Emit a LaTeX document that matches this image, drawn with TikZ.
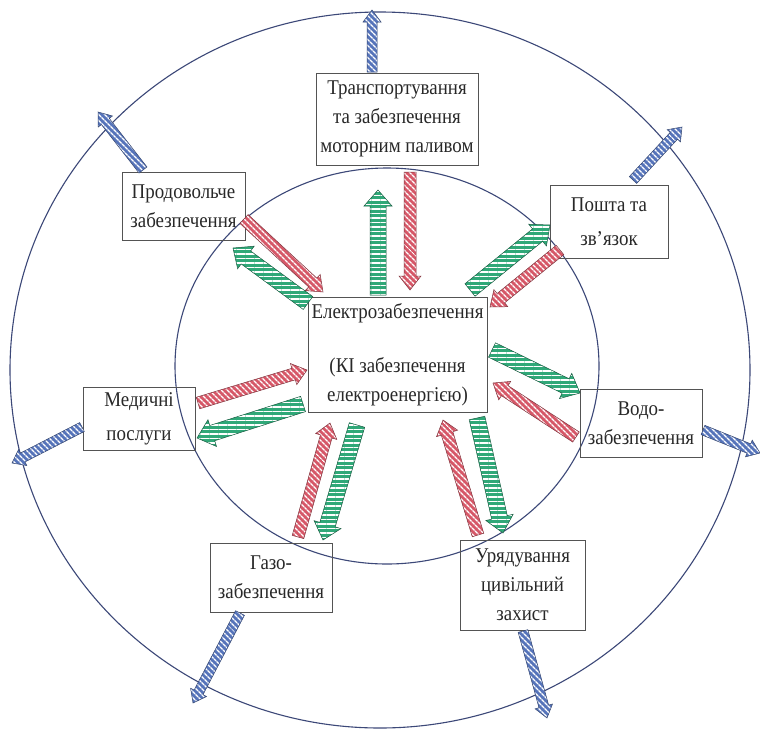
\documentclass[tikz,border=0pt]{standalone}
\usepackage{fontspec}
\setmainfont{Liberation Serif}[FakeStretch=0.9]
\usetikzlibrary{calc,patterns.meta}
\definecolor{grn}{RGB}{48,168,120}
\definecolor{rd}{RGB}{214,88,104}
\definecolor{blu}{RGB}{86,116,186}
\definecolor{ring}{RGB}{60,72,120}
\definecolor{txt}{RGB}{40,40,40}
\newcommand\blockarrow[6]{%
  \path[#1] ($(#2)!#4!90:(#3)$) -- ($(#3)!#6!(#2)!#4!-90:(#2)$) -- ($(#3)!#6!(#2)!#5!-90:(#2)$) -- (#3)
    -- ($(#3)!#6!(#2)!#5!90:(#2)$) -- ($(#3)!#6!(#2)!#4!90:(#2)$) -- ($(#2)!#4!-90:(#3)$) -- cycle;}
\tikzset{
  garrow/.style={draw=grn!55!black, line width=0.5pt, preaction={fill=grn},
    pattern={Lines[angle=0,distance=4.5pt,line width=1.4pt]}, pattern color=white},
  rarrow/.style={draw=rd!60!black, line width=0.5pt, preaction={fill=rd},
    pattern={Lines[angle=-45,distance=4pt,line width=1.4pt]}, pattern color=white},
  barrow/.style={draw=blu!60!black, line width=0.5pt, preaction={fill=blu},
    pattern={Lines[angle=-45,distance=4pt,line width=1.4pt]}, pattern color=white},
  box/.style={draw=txt!80, line width=0.7pt, align=center, inner sep=0pt, text=txt,
    font=\fontsize{21pt}{29pt}\selectfont},
  ringline/.style={draw=ring, line width=1.1pt}
}
\begin{document}
\begin{tikzpicture}[x=1pt,y=-1pt]
\useasboundingbox[fill=white] (0,0) rectangle (760,731);
% circles
\draw[ringline] (380,370) ellipse [x radius=370, y radius=358];
\draw[ringline] (387,366) ellipse [x radius=212, y radius=198];
% boxes
\node[box, minimum width=162pt, minimum height=92pt] (tr) at (397,119) {Транспортування\\та забезпечення\\моторним паливом};
\node[box, minimum width=123pt, minimum height=68pt] (pr) at (183.5,206) {Продовольче\\забезпечення};
\node[box, minimum width=118pt, minimum height=73pt, font=\fontsize{21pt}{34pt}\selectfont] (po) at (609,221.5) {Пошта та\\зв’язок};
\node[box, minimum width=179pt, minimum height=115pt] (el) at (397.5,354.5) {Електрозабезпечення\\[25pt](КІ забезпечення\\електроенергією)};
\node[box, minimum width=122pt, minimum height=68pt] (vo) at (641,423) {Водо-\\забезпечення};
\node[box, minimum width=112pt, minimum height=63pt, font=\fontsize{21pt}{34pt}\selectfont] (me) at (139,418.5) {Медичні\\послуги};
\node[box, minimum width=122pt, minimum height=69pt] (ga) at (271,577.5) {Газо-\\забезпечення};
\node[box, minimum width=125pt, minimum height=90pt] (ur) at (522.5,585) {Урядування\\цивільний\\захист};
% arrow end points
\coordinate (gTa) at (378,295); \coordinate (gTb) at (378,190);
\coordinate (gPa) at (308,303); \coordinate (gPb) at (233,248);
\coordinate (gOa) at (470,290); \coordinate (gOb) at (550,225);
\coordinate (gVa) at (492,350); \coordinate (gVb) at (580,393);
\coordinate (gMa) at (303,404); \coordinate (gMb) at (197,438);
\coordinate (gGa) at (357,425); \coordinate (gGb) at (323,540);
\coordinate (gUa) at (477,418); \coordinate (gUb) at (503,533);
\coordinate (rTa) at (410,172); \coordinate (rTb) at (410,290);
\coordinate (rPa) at (244,219); \coordinate (rPb) at (323,292);
\coordinate (rOa) at (560,250); \coordinate (rOb) at (490,307);
\coordinate (rVa) at (576,437); \coordinate (rVb) at (493,383);
\coordinate (rMa) at (198,403); \coordinate (rMb) at (307,370);
\coordinate (rGa) at (298,537); \coordinate (rGb) at (330,423);
\coordinate (rUa) at (478,535); \coordinate (rUb) at (443,420);
\coordinate (bTa) at (372,72);  \coordinate (bTb) at (372,10);
\coordinate (bPa) at (143,170); \coordinate (bPb) at (98,112);
\coordinate (bOa) at (633,180); \coordinate (bOb) at (682,127);
\coordinate (bMa) at (82,427);  \coordinate (bMb) at (12,463);
\coordinate (bVa) at (703,430); \coordinate (bVb) at (760,453);
\coordinate (bGa) at (240,613); \coordinate (bGb) at (193,703);
\coordinate (bUa) at (523,631); \coordinate (bUb) at (547,718);
% green arrows (from centre)
\foreach \n in {gT,gP,gO,gV,gM,gG,gU}{\blockarrow{garrow}{\n a}{\n b}{8pt}{14pt}{16pt}}
% red arrows (to centre)
\foreach \n in {rT,rP,rO,rV,rM,rG,rU}{\blockarrow{rarrow}{\n a}{\n b}{6pt}{11pt}{14pt}}
% blue arrows (outward)
\foreach \n in {bT,bP,bO,bM,bV,bG,bU}{\blockarrow{barrow}{\n a}{\n b}{5pt}{9pt}{12pt}}
\end{tikzpicture}
\end{document}
